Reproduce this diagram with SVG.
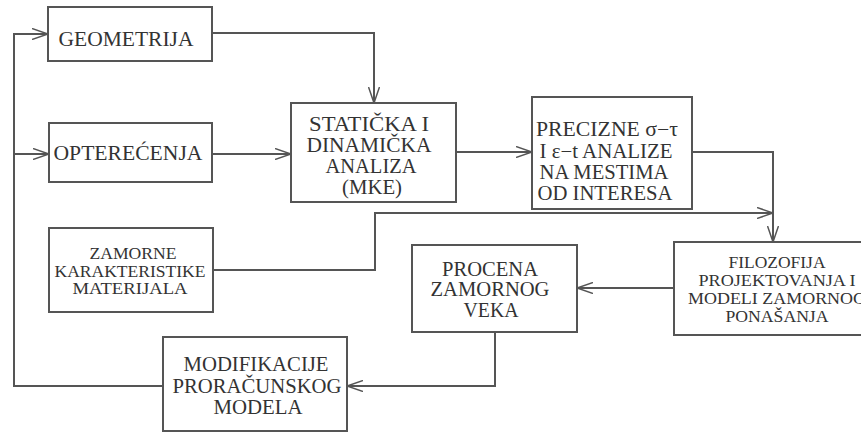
<svg xmlns="http://www.w3.org/2000/svg" width="861" height="433" viewBox="0 0 861 433">
<style>
.box{fill:#fff;stroke:#555;stroke-width:2}
.t{font-family:"Liberation Serif","Times New Roman",serif;fill:#333;text-anchor:middle;dominant-baseline:central}
.l{font-size:20px}
.s{font-size:16px}
.c{fill:none;stroke:#555;stroke-width:2}
</style>
<defs>
<marker id="ah" viewBox="0 0 16 12" refX="16" refY="6" markerWidth="16" markerHeight="12" markerUnits="userSpaceOnUse" orient="auto">
<path d="M0,0.5 L16,6 L0,11.5" fill="none" stroke="#555" stroke-width="1.5"/>
</marker>
</defs>
<rect width="861" height="433" fill="#fff"/>
<g id="connectors">
<path class="c" d="M163,386 H14 V34 H48" marker-end="url(#ah)"/>
<path class="c" d="M14,154 H49" marker-end="url(#ah)"/>
<path class="c" d="M212,33 H374 V103" marker-end="url(#ah)"/>
<path class="c" d="M212,154 H291" marker-end="url(#ah)"/>
<path class="c" d="M456,152 H532" marker-end="url(#ah)"/>
<path class="c" d="M692,152 H773 V242" marker-end="url(#ah)"/>
<path class="c" d="M213,270 H375 V213 H773" marker-end="url(#ah)"/>
<path class="c" d="M674,288 H577" marker-end="url(#ah)"/>
<path class="c" d="M495,332 V386 H347" marker-end="url(#ah)"/>
</g>
<g id="geometrija">
<rect class="box" x="48" y="7" width="164" height="54"/>
<text class="t l" x="126" y="39" textLength="135" lengthAdjust="spacingAndGlyphs">GEOMETRIJA</text>
</g>
<g id="opterecenja">
<rect class="box" x="49" y="123" width="163" height="59"/>
<text class="t l" x="128" y="153" textLength="149" lengthAdjust="spacingAndGlyphs">OPTEREĆENJA</text>
</g>
<g id="staticka">
<rect class="box" x="291" y="103" width="165" height="99"/>
<text class="t l" x="369" y="124" textLength="120" lengthAdjust="spacingAndGlyphs">STATIČKA I</text>
<text class="t l" x="369" y="145" textLength="125" lengthAdjust="spacingAndGlyphs">DINAMIČKA</text>
<text class="t l" x="371" y="166" textLength="91" lengthAdjust="spacingAndGlyphs">ANALIZA</text>
<text class="t l" x="372" y="187" textLength="60" lengthAdjust="spacingAndGlyphs">(MKE)</text>
</g>
<g id="precizne">
<rect class="box" x="532" y="97" width="160" height="112"/>
<text class="t l" x="607" y="129" textLength="142" lengthAdjust="spacingAndGlyphs">PRECIZNE  σ−τ</text>
<text class="t l" x="606" y="151" textLength="133" lengthAdjust="spacingAndGlyphs">I ε−t ANALIZE</text>
<text class="t l" x="604" y="172" textLength="129" lengthAdjust="spacingAndGlyphs">NA MESTIMA</text>
<text class="t l" x="605" y="193" textLength="135" lengthAdjust="spacingAndGlyphs">OD INTERESA</text>
</g>
<g id="zamorne">
<rect class="box" x="49" y="228" width="164" height="84"/>
<text class="t s" x="133" y="253" textLength="87" lengthAdjust="spacingAndGlyphs">ZAMORNE</text>
<text class="t s" x="130" y="271" textLength="151" lengthAdjust="spacingAndGlyphs">KARAKTERISTIKE</text>
<text class="t s" x="130" y="288" textLength="115" lengthAdjust="spacingAndGlyphs">MATERIJALA</text>
</g>
<g id="filozofija">
<rect class="box" x="674" y="242" width="200" height="93"/>
<text class="t s" x="777" y="262" textLength="97" lengthAdjust="spacingAndGlyphs">FILOZOFIJA</text>
<text class="t s" x="777" y="280" textLength="157" lengthAdjust="spacingAndGlyphs">PROJEKTOVANJA I</text>
<text class="t s" x="777" y="298" textLength="178" lengthAdjust="spacingAndGlyphs">MODELI ZAMORNOG</text>
<text class="t s" x="777" y="316" textLength="103" lengthAdjust="spacingAndGlyphs">PONAŠANJA</text>
</g>
<g id="procena">
<rect class="box" x="412" y="245" width="165" height="87"/>
<text class="t l" x="490" y="269" textLength="96" lengthAdjust="spacingAndGlyphs">PROCENA</text>
<text class="t l" x="490" y="289" textLength="119" lengthAdjust="spacingAndGlyphs">ZAMORNOG</text>
<text class="t l" x="491" y="310" textLength="55" lengthAdjust="spacingAndGlyphs">VEKA</text>
</g>
<g id="modifikacije">
<rect class="box" x="163" y="337" width="184" height="94"/>
<text class="t l" x="256" y="364" textLength="145" lengthAdjust="spacingAndGlyphs">MODIFIKACIJE</text>
<text class="t l" x="257" y="386" textLength="169" lengthAdjust="spacingAndGlyphs">PRORAČUNSKOG</text>
<text class="t l" x="258" y="407" textLength="89" lengthAdjust="spacingAndGlyphs">MODELA</text>
</g>
</svg>
